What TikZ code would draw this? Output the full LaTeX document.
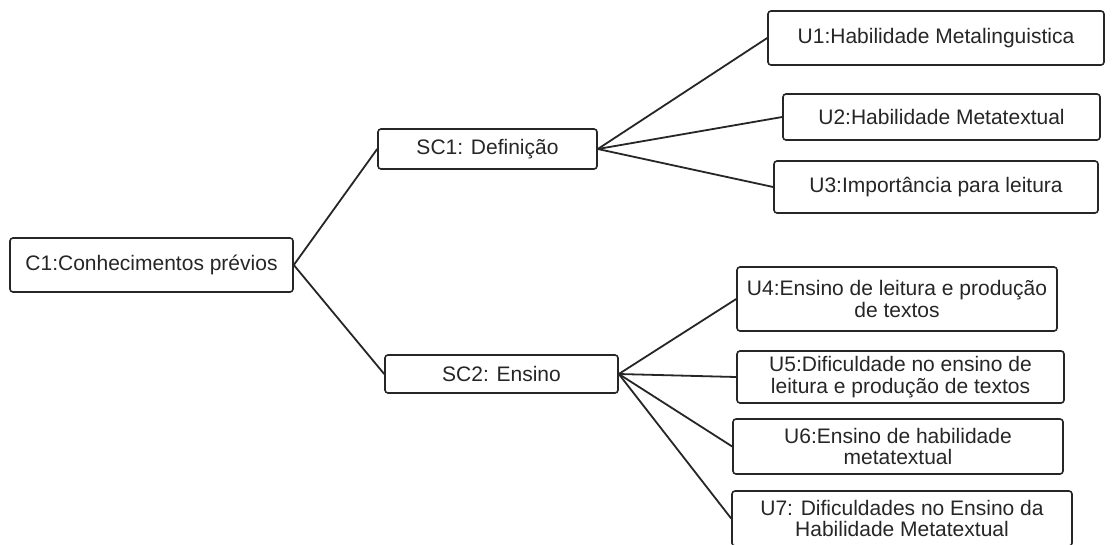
\documentclass[tikz,border=0pt]{standalone}
\usepackage{fontspec}
\setmainfont{Liberation Sans}
\begin{document}
\begin{tikzpicture}[x=1pt,y=-1pt,
  box/.style={draw=black!85, line width=1.6pt, rounded corners=3pt, fill=white,
    inner sep=0pt, align=center, text=black!85,
    font=\fontsize{21}{21.7}\selectfont},
  link/.style={draw=black!85, line width=1.8pt}]
\useasboundingbox (0,0) rectangle (1113,544);
\clip (0,0) rectangle (1113,544);
\fill[white] (0,0) rectangle (1113,544);
\node[box, minimum width=283pt, minimum height=54pt] (c1) at (151.5,265) {C1:Conhecimentos prévios};
\node[box, minimum width=219pt, minimum height=40pt] (sc1) at (487.5,149) {SC1: Definição};
\node[box, minimum width=233pt, minimum height=38pt] (sc2) at (501.5,374) {SC2: Ensino};
\node[box, minimum width=336pt, minimum height=54pt] (u1) at (936,38) {U1:Habilidade Metalinguistica};
\node[box, minimum width=317pt, minimum height=46pt] (u2) at (941.5,117) {U2:Habilidade Metatextual};
\node[box, minimum width=324pt, minimum height=52pt] (u3) at (936,187) {U3:Importância para leitura};
\node[box, minimum width=320pt, minimum height=64pt] (u4) at (897,299) {U4:Ensino de leitura e produção\\de textos};
\node[box, minimum width=327pt, minimum height=52pt] (u5) at (900.5,377) {U5:Dificuldade no ensino de\\leitura e produção de textos};
\node[box, minimum width=330pt, minimum height=55pt] (u6) at (898,446.5) {U6:Ensino de habilidade\\metatextual};
\node[box, minimum width=340pt, minimum height=55pt] (u7) at (902,518.5) {U7: Dificuldades no Ensino da\\Habilidade Metatextual};
\draw[link] (c1.east) -- (sc1.west);
\draw[link] (c1.east) -- (sc2.west);
\draw[link] (sc1.east) -- (u1.west);
\draw[link] (sc1.east) -- (u2.west);
\draw[link] (sc1.east) -- (u3.west);
\draw[link] (sc2.east) -- (u4.west);
\draw[link] (sc2.east) -- (u5.west);
\draw[link] (sc2.east) -- (u6.west);
\draw[link] (sc2.east) -- (u7.west);
\end{tikzpicture}
\end{document}
